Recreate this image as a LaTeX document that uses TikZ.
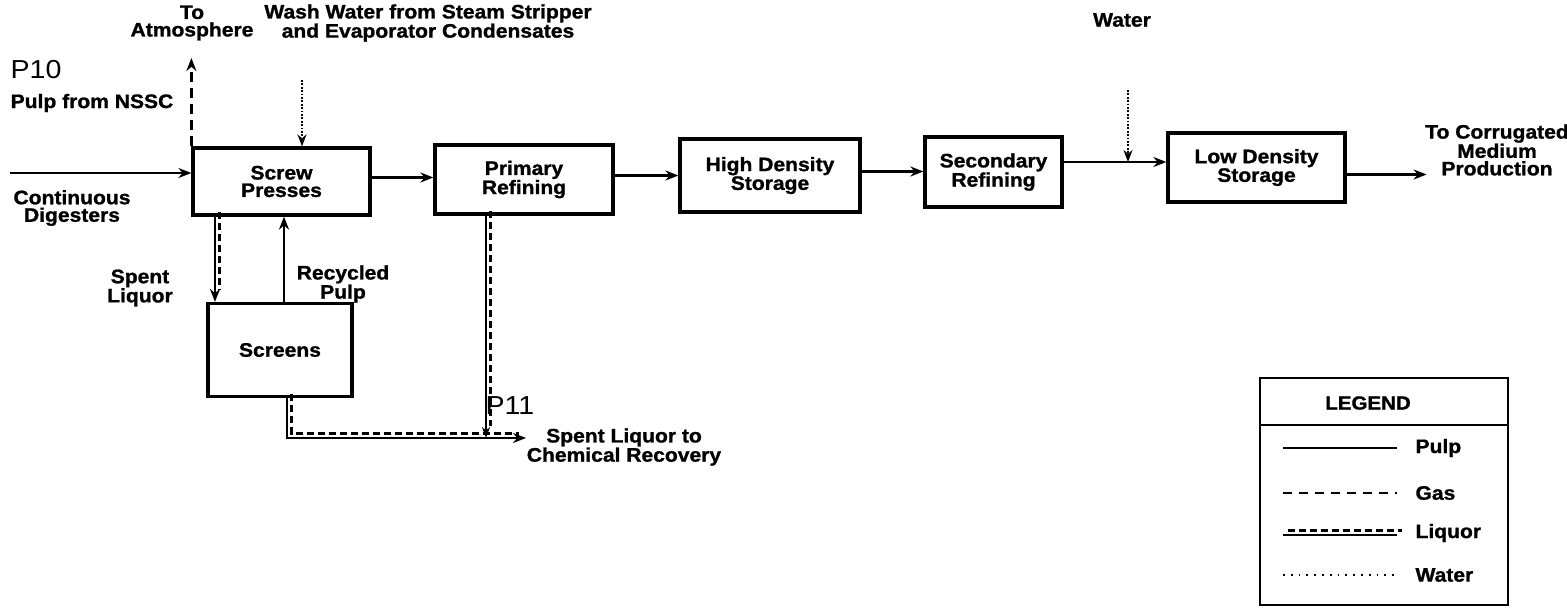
\documentclass[tikz,border=0pt]{standalone}
\usepackage{fontspec}
\setmainfont[FakeStretch=1.1,BoldFont={Liberation Sans Bold},
  BoldFeatures={FakeBold=1.2,FakeStretch=1.08}]{Liberation Sans}
\usetikzlibrary{arrows.meta,positioning}

\tikzset{
  caja/.style={draw, line width=3.2pt, minimum width=#1, align=center,
    font=\bfseries\fontsize{19.5}{17.5}\selectfont},
  rotulo/.style={align=center, font=\bfseries\fontsize{19.5}{17.5}\selectfont},
  mano/.style={font=\fontsize{26}{26}\selectfont},
  pulpa/.style={line width=2.6pt, -{Stealth[length=13pt,width=10pt]}},
  gas/.style={line width=3pt, dash pattern=on 10pt off 6pt, -{Stealth[length=13pt,width=10pt]}},
  agua/.style={line width=1.8pt, dash pattern=on 1.8pt off 1.6pt, -{Stealth[length=12pt,width=9pt]}},
  licor/.style={line width=2.6pt,
    postaction={draw, -, line width=2.8pt, dash pattern=on 7pt off 4pt,
      shorten >=#1, transform canvas={xshift=4.5pt,yshift=4.5pt}}},
  licor/.default=0pt,
}

\begin{document}
\begin{tikzpicture}[x=1pt, y=-1pt]

\useasboundingbox (0,0) rectangle (1567,608);

% === CAJAS ===
\node[caja=177pt, minimum height=67pt] (prensa) at (281.5,181.5) {Screw\\Presses};
\node[caja=178pt, minimum height=69pt] (prim)   at (524,179.5)   {Primary\\Refining};
\node[caja=180pt, minimum height=73pt] (alta)   at (770,175.5)   {High Density\\Storage};
\node[caja=137pt, minimum height=70pt] (secu)   at (993.5,172)   {Secondary\\Refining};
\node[caja=177pt, minimum height=69pt] (baja)   at (1256.5,167.5) {Low Density\\Storage};
\node[caja=144pt, minimum height=93pt] (criba)  at (280,350)     {Screens};

% === TEXTOS ===
\node[rotulo] (atmos) at (192,23)   {To\\Atmosphere};
\node[rotulo] (lavado) at (428,23)  {Wash Water from Steam Stripper\\and Evaporator Condensates};
\node[rotulo] (agua) at (1122,20)   {Water};
\node[rotulo] (nssc) at (92,103)    {Pulp from NSSC};
\node[rotulo] (dig) at (72,208)     {Continuous\\Digesters};
\node[rotulo] (spent) at (140,288)  {Spent\\Liquor};
\node[rotulo] (recic) at (343,284)  {Recycled\\Pulp};
\node[rotulo] (recup) at (624,447)  {Spent Liquor to\\Chemical Recovery};
\node[rotulo] (corr) at (1497,150)  {To Corrugated\\Medium\\Production};
\node[mano] (p10) at (36,70)  {P10};
\node[mano] (p11) at (510,406) {P11};

% === PULPA ===
\coordinate (ini) at (10,173);
\draw[pulpa] (ini) -- (ini -| prensa.west);
\draw[pulpa] ([yshift=4pt]prensa.east) -- ([yshift=4pt]prensa.east -| prim.west);
\draw[pulpa] ([yshift=4pt]prim.east) -- ([yshift=4pt]prim.east -| alta.west);
\draw[pulpa] ([yshift=4pt]alta.east) -- ([yshift=4pt]alta.east -| secu.west);
\coordinate (union) at (1128,162);
\draw[pulpa] (secu.east |- union) -- (union -| baja.west);
\draw[pulpa] ([yshift=-7pt]baja.east) -- ++(80,0) coordinate (fin);
\draw[pulpa] (criba.north -| 284,0) -- (prensa.south -| 284,0);

% === GAS Y AGUA ===
\draw[gas] (prensa.north west) -- (prensa.north west |- 0,58);
\draw[agua] (302,80) -- (prensa.north -| 302,0);
\draw[agua] (1128,90) -- (union);

% === LICOR ===
\draw[licor=8pt, -{Stealth[length=13pt,width=10pt]}] (prensa.south -| 215,0) -- (criba.north -| 215,0);
\coordinate (esq) at (287,438);
\coordinate (cruce) at (486,438);
\draw[licor=12pt, -{Stealth[length=13pt,width=10pt]}] (criba.south -| esq) -- (esq) -- (526,438);
\draw[licor=8pt, -{Stealth[length=11pt,width=8pt]}] (prim.south -| cruce) -- (cruce);

% === LEYENDA ===
\draw[line width=2.6pt] (1260,378) rectangle (1508,605);
\draw[line width=1.6pt] (1260,425) -- (1508,425);
\node[font=\bfseries\fontsize{19}{19}\selectfont] (leyenda) at (1368,403) {LEGEND};
\foreach \y/\t in {448/Pulp,493/Gas,533/Liquor,575/Water}{
  \node[rotulo, anchor=west] (ley\t) at (1412,\y) {\t};
}
\draw[line width=2.4pt] (1283,448) -- (1397,448);
\draw[line width=2.6pt, dash pattern=on 9pt off 7pt] (1283,493) -- (1397,493);
\draw[licor] (1283,535) -- (1397,535);
\draw[line width=1.6pt, dash pattern=on 1.8pt off 6pt] (1283,575) -- (1397,575);

\end{tikzpicture}
\end{document}
